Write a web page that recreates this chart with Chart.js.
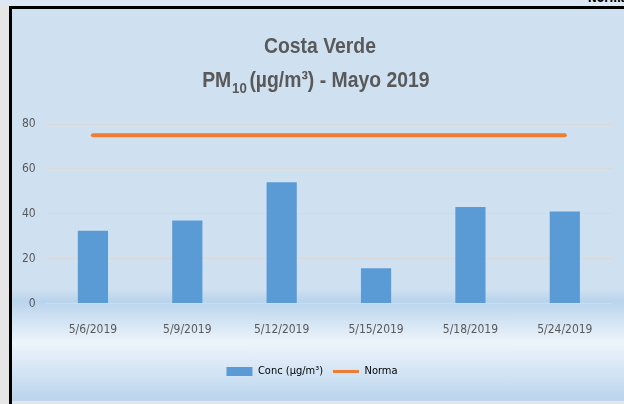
<!DOCTYPE html>
<html>
<head>
<meta charset="utf-8">
<script src="https://cdn.jsdelivr.net/npm/chart.js@4.4.0/dist/chart.umd.min.js"></script>
<style>
  body { margin: 0; width: 624px; height: 404px; background: #e6e6e6; position: relative; overflow: hidden; }
  #strip { position: absolute; left: 0; top: 0; width: 624px; height: 6px; background: #dde8f4; overflow: hidden; }
  #strip span { position: absolute; right: -4px; top: -9px; font: bold 12px "DejaVu Sans Condensed", sans-serif; color: #000; }
  #topline { position: absolute; left: 9px; top: 6px; width: 615px; height: 3px; background: #000; }
  #leftline { position: absolute; left: 9px; top: 6px; width: 3px; height: 398px; background: #000; }
  #box {
    position: absolute; left: 12px; top: 9px; width: 612px; height: 392px;
    background: linear-gradient(to bottom, #cfe0f1 0px, #cfe0f1 280px, #b9d4ec 292px, #eef4fb 334px, #bcd6ee 388px);
  }
</style>
</head>
<body>
<div id="strip"><span>Norma</span></div>
<div id="topline"></div>
<div id="leftline"></div>
<div id="box"><canvas id="chart" width="612" height="392"></canvas></div>
<script>
const dates = ['5/6/2019', '5/9/2019', '5/12/2019', '5/15/2019', '5/18/2019', '5/24/2019'];
const conc = [32.5, 37, 54, 15.8, 43, 41];
const norma = [75, 75, 75, 75, 75, 75];
const yTicks = [0, 20, 40, 60, 80];

const barColor = '#5b9bd5';
const lineColor = '#ed7d31';
const textColor = '#595959';
const narrow = '"DejaVu Sans Condensed", sans-serif';
const titleFont = '"Liberation Sans", Arial, sans-serif';

// Title with the subscript in PM10, drawn by hand (squeezed to look like a narrow face)
const titlePlugin = {
    id: 'pmTitle',
    afterDraw(chart) {
        const ctx = chart.ctx;
        const sx = 0.88;
        const cx = 306 / sx;
        ctx.save();
        ctx.scale(sx, 1);
        ctx.fillStyle = textColor;
        ctx.textBaseline = 'alphabetic';
        ctx.textAlign = 'left';
        ctx.font = 'bold 22px ' + titleFont;
        const l1 = 'Costa Verde';
        ctx.fillText(l1, cx - ctx.measureText(l1).width / 2 + 2 / sx, 44);

        const a = 'PM', b = '10', c = '(µg/m³) - Mayo 2019';
        const wa = ctx.measureText(a).width;
        const wc = ctx.measureText(c).width;
        ctx.font = 'bold 15px ' + titleFont;
        const wb = ctx.measureText(b).width + 3;
        let x = cx - (wa + wb + wc) / 2 - 3;
        ctx.font = 'bold 22px ' + titleFont;
        ctx.fillText(a, x, 78);
        x += wa + 1;
        ctx.font = 'bold 15px ' + titleFont;
        ctx.fillText(b, x, 84);
        x += wb;
        ctx.font = 'bold 22px ' + titleFont;
        ctx.fillText(c, x, 78);
        ctx.restore();
    }
};

new Chart(document.getElementById('chart').getContext('2d'), {
    type: 'bar',
    data: {
        labels: dates,
        datasets: [{
            label: 'Conc (µg/m³)',
            data: conc,
            backgroundColor: barColor,
            categoryPercentage: 1,
            barPercentage: 0.32
        }, {
            type: 'line',
            label: 'Norma',
            data: norma,
            borderColor: lineColor,
            backgroundColor: lineColor,
            borderWidth: 4,
            borderCapStyle: 'round',
            pointRadius: 0,
            fill: false
        }]
    },
    options: {
        responsive: false,
        animation: false,
        layout: { padding: { top: 115, left: 0, right: 12, bottom: 14 } },
        scales: {
            x: {
                grid: { display: false },
                border: { display: false },
                ticks: { color: textColor, font: { family: narrow, size: 12 }, padding: 11, maxRotation: 0 },
                afterFit: scale => { scale.height += 8; }
            },
            y: {
                min: 0,
                max: 80,
                afterBuildTicks: scale => { scale.ticks = yTicks.map(v => ({ value: v })); },
                grid: { color: '#d9d9d9', drawTicks: false, lineWidth: 1 },
                border: { display: false },
                ticks: { color: textColor, font: { family: narrow, size: 12 }, padding: 10 }
            }
        },
        plugins: {
            title: { display: false },
            tooltip: { enabled: false },
            legend: {
                position: 'bottom',
                labels: {
                    color: textColor,
                    font: { family: narrow, size: 11 },
                    usePointStyle: true,
                    pointStyleWidth: 26,
                    boxHeight: 9,
                    padding: 10,
                    generateLabels: () => [
                        { text: 'Conc (µg/m³)', fillStyle: barColor, strokeStyle: barColor, lineWidth: 0, pointStyle: 'rect', datasetIndex: 0 },
                        { text: 'Norma', fillStyle: lineColor, strokeStyle: lineColor, lineWidth: 3, pointStyle: 'line', datasetIndex: 1 }
                    ]
                }
            }
        }
    },
    plugins: [titlePlugin]
});
</script>
</body>
</html>
